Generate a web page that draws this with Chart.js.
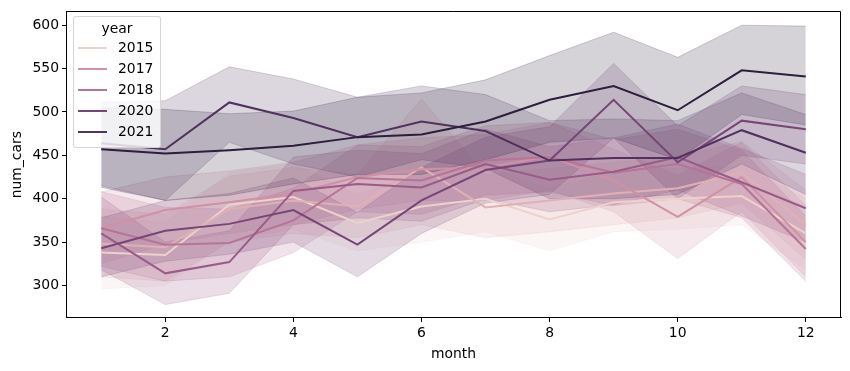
<!DOCTYPE html>
<html>
<head>
<meta charset="utf-8">
<script src="https://cdn.jsdelivr.net/npm/chart.js@4.4.1/dist/chart.umd.min.js"></script>
<style>
  body { margin: 0; background: #fff; }
  #wrap { position: relative; width: 850px; height: 371px; font-family: 'DejaVu Sans', sans-serif; }
  #legend {
    position: absolute; left: 73px; top: 16px; width: 86px; height: 130px;
    background: rgba(255,255,255,0.8); border: 1px solid rgba(204,204,204,0.8);
    border-radius: 3px; font-size: 13.9px; color: #000;
  }
  #legend .title { text-align: center; margin-top: 3px; height: 18px; line-height: 17px; }
  #legend .row { position: relative; height: 21px; }
  #legend .swatch { position: absolute; left: 4px; top: 9px; width: 29px; height: 2px; }
  #legend .lab { position: absolute; left: 44px; top: 1px; }
</style>
</head>
<body>
<div id="wrap">
  <canvas id="chart" width="850" height="371"></canvas>
  <div id="legend"></div>
</div>
<script>
// mois et années
const months = [1, 2, 3, 4, 5, 6, 7, 8, 9, 10, 11, 12];
const years = [2015, 2016, 2017, 2018, 2019, 2020, 2021, 2022];
const legendYears = [2015, 2017, 2018, 2020, 2021];
const xTicks = [2, 4, 6, 8, 10, 12];
const yTicks = [300, 350, 400, 450, 500, 550, 600];

// moyennes (num_cars) par année
const mean2015 = [338, 335, 393, 402, 372, 391, 400, 376, 396, 400, 403, 360];
const mean2016 = [348, 344, 388, 398, 391, 436, 390, 398, 406, 412, 430, 370];
const mean2017 = [366, 387, 396, 406, 425, 434, 436, 449, 421, 379, 425, 350];
const mean2018 = [366, 347, 349, 375, 424, 421, 444, 448, 430, 440, 417, 342];
const mean2019 = [360, 314, 327, 409, 417, 413, 440, 422, 431, 448, 419, 389];
const mean2020 = [343, 363, 371, 387, 347, 398, 433, 444, 514, 442, 490, 480];
const mean2021 = [464, 457, 511, 493, 471, 489, 478, 444, 447, 447, 479, 453];
const mean2022 = [457, 452, 456, 461, 471, 474, 489, 514, 530, 502, 548, 541];

// intervalles de confiance (bas / haut)
const lo2015 = [296, 300, 352, 365, 340, 350, 362, 340, 362, 365, 370, 318];
const hi2015 = [380, 372, 430, 440, 405, 430, 438, 412, 432, 435, 438, 400];
const lo2016 = [310, 305, 350, 360, 355, 370, 355, 362, 370, 378, 395, 330];
const hi2016 = [388, 382, 426, 436, 428, 515, 428, 435, 442, 448, 466, 410];
const lo2017 = [325, 348, 360, 370, 388, 398, 398, 410, 385, 331, 385, 310];
const hi2017 = [408, 425, 432, 442, 462, 470, 474, 488, 457, 427, 465, 392];
const lo2018 = [322, 305, 310, 338, 385, 382, 404, 408, 392, 400, 378, 305];
const hi2018 = [408, 390, 388, 412, 462, 460, 484, 488, 468, 480, 456, 380];
const lo2019 = [318, 278, 291, 370, 378, 374, 400, 385, 393, 410, 380, 350];
const hi2019 = [402, 350, 363, 448, 456, 452, 480, 460, 470, 486, 458, 428];
const lo2020 = [310, 328, 336, 350, 310, 360, 395, 405, 470, 400, 450, 440];
const hi2020 = [378, 398, 406, 424, 384, 436, 471, 483, 556, 484, 530, 520];
const lo2021 = [415, 398, 465, 440, 425, 445, 435, 400, 400, 405, 440, 405];
const hi2021 = [511, 513, 552, 538, 517, 530, 520, 490, 492, 490, 522, 497];
const lo2022 = [413, 398, 404, 417, 428, 428, 445, 465, 470, 445, 497, 485];
const hi2022 = [505, 503, 498, 501, 517, 522, 537, 565, 592, 563, 600, 599];

const means = [mean2015, mean2016, mean2017, mean2018, mean2019, mean2020, mean2021, mean2022];
const lows = [lo2015, lo2016, lo2017, lo2018, lo2019, lo2020, lo2021, lo2022];
const highs = [hi2015, hi2016, hi2017, hi2018, hi2019, hi2020, hi2021, hi2022];

// palette cubehelix (comme seaborn "ch:")
function cubehelix(t) {
    const x = 0.85 + (0.15 - 0.85) * t;
    const a = 0.8 * x * (1 - x) / 2;
    const phi = 2 * Math.PI * (0.4 * x);
    const c = Math.cos(phi), s = Math.sin(phi);
    const f = (p0, p1) => Math.round(255 * Math.min(1, Math.max(0, x + a * (p0 * c + p1 * s))));
    return [f(-0.14861, 1.78277), f(-0.29227, -0.90649), f(1.97294, 0)];
}
const yMin = years[0], yMax = years[years.length - 1];
const colorOf = (year, alpha) => {
    const [r, g, b] = cubehelix((year - yMin) / (yMax - yMin));
    return `rgba(${r},${g},${b},${alpha})`;
};

const pts = arr => months.map((m, j) => ({ x: m, y: arr[j] }));

const datasets = [];
years.forEach((year, i) => {
    datasets.push({
        label: String(year), data: pts(means[i]),
        borderColor: colorOf(year, 1), borderWidth: 2, fill: false,
        order: years.length - 1 - i
    });
});
years.forEach((year, i) => {
    datasets.push({
        label: year + ' hi', data: pts(highs[i]),
        borderColor: colorOf(year, 0.2), backgroundColor: colorOf(year, 0.2),
        borderWidth: 1, fill: '+1', order: 100 + years.length - 1 - i
    });
    datasets.push({
        label: year + ' lo', data: pts(lows[i]),
        borderColor: colorOf(year, 0.2), borderWidth: 1, fill: false,
        order: 100 + years.length - 1 - i
    });
});

// spines haut et droite
const framePlugin = {
    id: 'frame',
    afterDraw(chart) {
        const { ctx, chartArea: a } = chart;
        const top = Math.round(a.top) + 0.5, right = Math.round(a.right) - 0.5;
        ctx.save();
        ctx.strokeStyle = '#000';
        ctx.lineWidth = 1;
        ctx.beginPath();
        ctx.moveTo(Math.round(a.left), top);
        ctx.lineTo(right, top);
        ctx.lineTo(right, Math.round(a.bottom));
        ctx.stroke();
        ctx.restore();
    }
};

const font = { family: "'DejaVu Sans', sans-serif", size: 13.9 };

new Chart(document.getElementById('chart'), {
    type: 'line',
    data: { datasets },
    options: {
        responsive: false,
        animation: false,
        devicePixelRatio: 1,
        layout: { padding: { left: 0, right: 9, top: 10, bottom: 0 } },
        elements: { point: { radius: 0 }, line: { tension: 0 } },
        plugins: { legend: { display: false }, tooltip: { enabled: false } },
        scales: {
            x: {
                type: 'linear', min: 0.45, max: 12.55,
                afterBuildTicks: s => { s.ticks = xTicks.map(v => ({ value: v })); },
                afterFit: s => { s.height = 53; },
                grid: { drawOnChartArea: false, drawTicks: true, tickLength: 4, tickColor: '#000' },
                border: { display: true, color: '#000', width: 1 },
                ticks: { color: '#000', font, padding: 3, maxRotation: 0 },
                title: { display: true, text: 'month', color: '#000', font, padding: { top: 0, bottom: 8 } }
            },
            y: {
                type: 'linear', min: 262.5, max: 616,
                afterBuildTicks: s => { s.ticks = yTicks.map(v => ({ value: v })); },
                afterFit: s => { s.width = 66; },
                grid: { drawOnChartArea: false, drawTicks: true, tickLength: 4, tickColor: '#000' },
                border: { display: true, color: '#000', width: 1 },
                ticks: { color: '#000', font, padding: 3 },
                title: { display: true, text: 'num_cars', color: '#000', font, padding: { top: 9, bottom: 0 } }
            }
        }
    },
    plugins: [framePlugin]
});

// légende (dans le cadre, en haut à gauche)
const legend = document.getElementById('legend');
legend.innerHTML = '<div class="title">year</div>' + legendYears.map(y =>
    `<div class="row"><div class="swatch" style="background:${colorOf(y, 1)}"></div><span class="lab">${y}</span></div>`
).join('');
</script>
</body>
</html>
